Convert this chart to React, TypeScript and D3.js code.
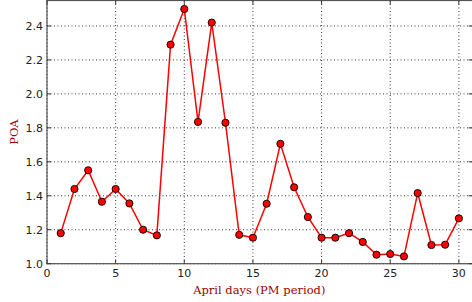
import { useEffect, useRef } from 'react';
import * as d3 from 'd3';

const days = [1, 2, 3, 4, 5, 6, 7, 8, 9, 10, 11, 12, 13, 14, 15, 16, 17, 18, 19, 20, 21, 22, 23, 24, 25, 26, 27, 28, 29, 30];
const poa = [1.18, 1.44, 1.55, 1.365, 1.44, 1.355, 1.2, 1.167, 2.29, 2.5, 1.835, 2.42, 1.83, 1.17, 1.153, 1.353, 1.706, 1.45, 1.275, 1.153, 1.153, 1.18, 1.128, 1.053, 1.057, 1.043, 1.416, 1.11, 1.112, 1.267];
const xTicks = [0, 5, 10, 15, 20, 25, 30];
const yTicks = [1.0, 1.2, 1.4, 1.6, 1.8, 2.0, 2.2, 2.4];

export default function App() {
  const ref = useRef<SVGSVGElement>(null);

  useEffect(() => {
    const width = 472;
    const height = 302;
    const left = 47, right = 472.6, top = 0.5, bottom = 263.7;

    const svg = d3.select(ref.current);
    svg.selectAll('*').remove();

    const x = d3.scaleLinear().domain([0, 31]).range([left, right]);
    const y = d3.scaleLinear().domain([1.0, 2.55]).range([bottom, top]);

    const g = svg.append('g');

    // grid
    g.selectAll('.vgrid').data(xTicks).enter().append('line')
      .attr('x1', d => x(d)).attr('x2', d => x(d))
      .attr('y1', top).attr('y2', bottom)
      .attr('stroke', '#000').attr('stroke-width', 0.8)
      .attr('stroke-dasharray', '1,2.5');
    g.selectAll('.hgrid').data(yTicks).enter().append('line')
      .attr('x1', left).attr('x2', right)
      .attr('y1', d => y(d)).attr('y2', d => y(d))
      .attr('stroke', '#000').attr('stroke-width', 0.8)
      .attr('stroke-dasharray', '1,2.5');

    // line
    const line = d3.line<number>()
      .x((_, i) => x(days[i]))
      .y(d => y(d));
    g.append('path').datum(poa)
      .attr('fill', 'none').attr('stroke', '#ff0000').attr('stroke-width', 1.5)
      .attr('d', line);

    g.selectAll('.pt').data(poa).enter().append('circle')
      .attr('cx', (_, i) => x(days[i])).attr('cy', d => y(d))
      .attr('r', 3.6)
      .attr('fill', '#ff0000').attr('stroke', '#000').attr('stroke-width', 0.9);

    // spines
    g.append('rect')
      .attr('x', left).attr('y', top)
      .attr('width', right - left).attr('height', bottom - top)
      .attr('fill', 'none').attr('stroke', '#555').attr('stroke-width', 1.2);

    // ticks (inward, all sides)
    const tl = 4;
    xTicks.forEach(t => {
      g.append('line').attr('x1', x(t)).attr('x2', x(t)).attr('y1', bottom).attr('y2', bottom - tl).attr('stroke', '#333');
      g.append('line').attr('x1', x(t)).attr('x2', x(t)).attr('y1', top).attr('y2', top + tl).attr('stroke', '#333');
    });
    yTicks.forEach(t => {
      g.append('line').attr('x1', left).attr('x2', left + tl).attr('y1', y(t)).attr('y2', y(t)).attr('stroke', '#333');
      g.append('line').attr('x1', right).attr('x2', right - tl).attr('y1', y(t)).attr('y2', y(t)).attr('stroke', '#333');
    });

    // tick labels
    g.selectAll('.xl').data(xTicks).enter().append('text')
      .attr('x', d => x(d)).attr('y', bottom + 13)
      .attr('text-anchor', 'middle')
      .attr('font-family', 'DejaVu Sans').attr('font-size', 11).attr('fill', '#222')
      .text(d => String(d));
    g.selectAll('.yl').data(yTicks).enter().append('text')
      .attr('x', left - 4).attr('y', d => y(d) + 4)
      .attr('text-anchor', 'end')
      .attr('font-family', 'DejaVu Sans').attr('font-size', 11).attr('fill', '#222')
      .text(d => d.toFixed(1));

    // axis labels
    g.append('text')
      .attr('x', (left + right) / 2 - 0.5).attr('y', 294)
      .attr('text-anchor', 'middle')
      .attr('font-family', 'DejaVu Serif').attr('font-size', 11.5).attr('fill', '#a00000')
      .text('April days (PM period)');
    g.append('text')
      .attr('transform', `translate(18,${(top + bottom) / 2}) rotate(-90)`)
      .attr('text-anchor', 'middle')
      .attr('font-family', 'DejaVu Serif').attr('font-size', 11.5).attr('fill', '#a00000')
      .text('POA');

    svg.attr('width', width).attr('height', height);
  }, []);

  return <svg ref={ref} width={472} height={302} style={{ position: 'absolute', left: 0, top: 0, background: '#fff' }} />;
}
